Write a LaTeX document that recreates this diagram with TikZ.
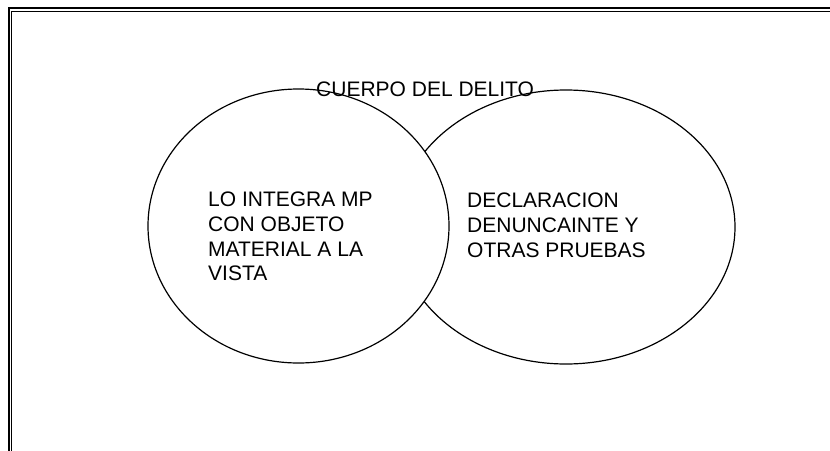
\documentclass[tikz,border=0pt]{standalone}
\usepackage{fontspec}
\setmainfont{Liberation Sans}
\usetikzlibrary{shapes.geometric}
\begin{document}
\begin{tikzpicture}[x=1pt,y=-1pt,
  circ/.style={ellipse,draw=black,line width=1.2pt,fill=white,inner sep=0pt},
  txt/.style={anchor=north west,inner sep=0pt,align=left,font=\fontsize{21}{24.7}\selectfont}]
\useasboundingbox (0,0) rectangle (830,450);
% frame
\draw[line width=2.2pt] (9,452) -- (9,8) -- (832,8);
\draw[line width=1.1pt] (11.8,452) -- (11.8,11.2) -- (832,11.2);
% ellipses
\node[circ,minimum width=338pt,minimum height=274pt] (R) at (566,227) {};
\node[circ,minimum width=301pt,minimum height=274pt] (L) at (298.5,226) {};
% texts
\node[txt] (lt) at (208,192) {LO INTEGRA MP\\CON OBJETO\\MATERIAL A LA\\VISTA};
\node[txt] (rt) at (467,193) {DECLARACION\\DENUNCAINTE Y\\OTRAS PRUEBAS};
\node[txt] (title) at (316,82) {CUERPO DEL DELITO};
\end{tikzpicture}
\end{document}
